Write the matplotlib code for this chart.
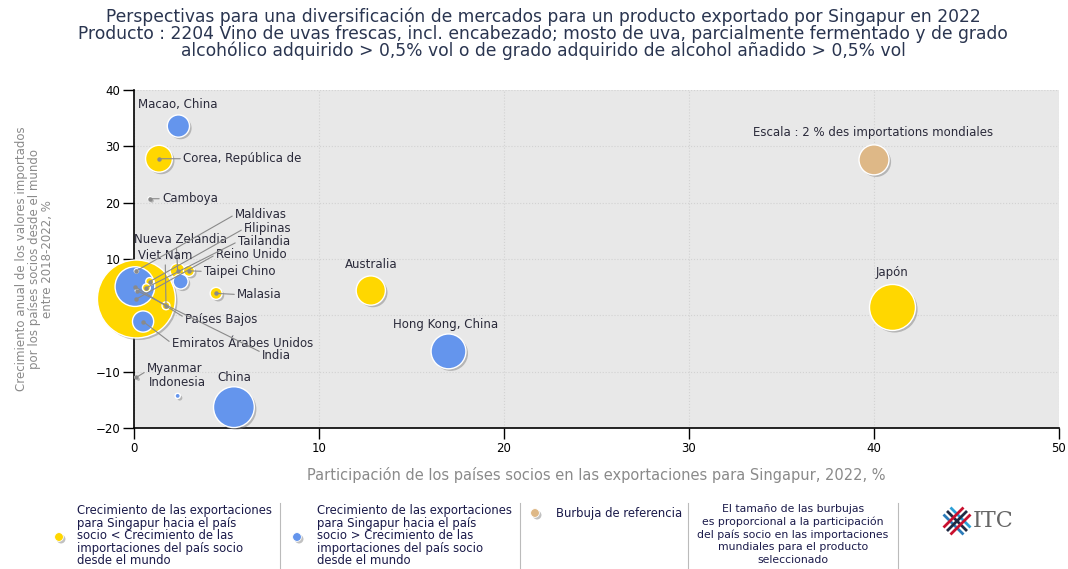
import numpy as np
import matplotlib
matplotlib.use('Agg')
import matplotlib.pyplot as plt
import matplotlib.patheffects as pe

# partner countries: x = share in Singapore exports (%), y = import growth 2018-2022 (%),
# size = share of partner in world imports (%), grp = bubble colour group
countries = ['Reino Unido', 'Japón', 'China', 'Países Bajos', 'Hong Kong, China', 'Australia',
             'Corea, República de', 'Macao, China', 'Emiratos Árabes Unidos', 'Nueva Zelandia',
             '', 'Malasia', 'Taipei Chino', 'Filipinas', 'Tailandia', 'Viet Nam',
             'Indonesia', 'Maldivas', 'Camboya', 'Myanmar', 'India']
share_exports = [0.13, 41.0, 5.4, 0.05, 17.0, 12.8,
                 1.35, 2.4, 0.49, 2.36,
                 2.52, 4.44, 2.97, 0.85, 0.67, 1.73,
                 2.36, 0.13, 0.86, 0.13, 0.15]
import_growth = [2.9, 1.4, -16.3, 5.1, -6.4, 4.4,
                 27.8, 33.6, -1.1, 7.9,
                 6.0, 3.9, 7.9, 6.0, 4.9, 1.7,
                 -14.3, 7.9, 20.7, -11.0, 4.4]
world_share = [13.5, 4.7, 3.7, 3.5, 2.7, 1.9,
               1.6, 1.1, 1.0, 0.5,
               0.5, 0.32, 0.27, 0.14, 0.14, 0.14,
               0.06, 0.04, 0.03, 0.02, 0.02]
grp = ['y', 'y', 'b', 'b', 'b', 'y',
       'y', 'b', 'b', 'y',
       'b', 'y', 'y', 'y', 'y', 'y',
       'b', 'b', 'g', 'g', 'g']

ref_x, ref_y, ref_share = 40.0, 27.6, 2.0

colors = {'y': '#FFD700', 'b': '#6495ED', 'g': '#8c8c8c', 'r': '#DEB887'}
txt_col = '#2a2a3a'
line_col = '#8a8a8a'
lab_fs = 8.5

# label placement (data coords), alignment, and where the leader line leaves the text
lab_pos = {
    'Corea, República de': ((2.65, 27.8), 'left', (0, 0.5)),
    'Camboya': ((1.51, 20.7), 'left', (0, 0.5)),
    'Maldivas': ((5.46, 17.9), 'left', (0, 0.5)),
    'Filipinas': ((5.95, 15.4), 'left', (0, 0.5)),
    'Nueva Zelandia': ((2.49, 13.5), 'center', (0.46, 0)),
    'Tailandia': ((5.62, 13.1), 'left', (0, 0.5)),
    'Reino Unido': ((4.43, 10.8), 'left', (0, 0.5)),
    'Viet Nam': ((1.69, 10.6), 'center', (0.5, 0)),
    'Taipei Chino': ((3.78, 7.8), 'left', (0, 0.5)),
    'Malasia': ((5.57, 3.7), 'left', (0, 0.5)),
    'Países Bajos': ((2.76, -0.7), 'left', (0, 0.6)),
    'Emiratos Árabes Unidos': ((2.05, -5.0), 'left', (0, 0.5)),
    'India': ((6.92, -7.1), 'left', (0, 0.7)),
    'Myanmar': ((0.70, -9.4), 'left', (0, 0.3)),
    'Macao, China': ((2.38, 37.5), 'center', None),
    'Indonesia': ((2.32, -11.9), 'center', None),
    'China': ((5.41, -11.0), 'center', None),
    'Australia': ((12.81, 9.0), 'center', None),
    'Hong Kong, China': ((16.86, -1.6), 'center', None),
    'Japón': ((40.97, 7.6), 'center', None),
}


def bubble_size(share):
    # reference bubble (2 %) is ~30 px across at 100 dpi
    d_px = 30 * np.sqrt(np.asarray(share) / 2.0)
    return (d_px * 0.72) ** 2


fig = plt.figure(figsize=(10.68, 5.69), dpi=100)
ax = fig.add_axes([134 / 1068, 1 - 428 / 569, (1059 - 134) / 1068, (428 - 90) / 569])
ax.set_facecolor('#E8E8E8')
ax.set_xlim(0, 50)
ax.set_ylim(-20, 40)
ax.set_xticks(range(0, 51, 10))
ax.set_yticks(range(-20, 41, 10))
ax.grid(True, color='#d2d2d2', linestyle=':', linewidth=0.8)
ax.set_axisbelow(True)
for s in ['top', 'right']:
    ax.spines[s].set_visible(False)
ax.spines['left'].set_linewidth(1.2)
ax.spines['bottom'].set_linewidth(1.2)
ax.tick_params(axis='both', length=8, width=1, labelsize=8.5, colors='black', pad=2)

shadow = [pe.SimplePatchShadow(offset=(1.5, -1.5), shadow_rgbFace='#777777', alpha=0.45), pe.Normal()]

order = np.argsort(world_share)[::-1]
xs = np.array(share_exports)[order]
ys = np.array(import_growth)[order]
ss = bubble_size(np.array(world_share)[order])
cs = [colors[grp[i]] for i in order]

# leader lines first so bubbles sit on top of them
for name, x, y in zip(countries, share_exports, import_growth):
    if name not in lab_pos:
        continue
    (tx, ty), ha, rel = lab_pos[name]
    if rel is None:
        ax.text(tx, ty, name, ha=ha, va='center', fontsize=lab_fs, color=txt_col, zorder=5)
    else:
        ax.annotate(name, xy=(x, y), xytext=(tx, ty), ha=ha, va='center', fontsize=lab_fs,
                    color=txt_col, zorder=5, annotation_clip=False,
                    arrowprops=dict(arrowstyle='-', color=line_col, lw=0.8, relpos=rel,
                                    shrinkA=0, shrinkB=0))

sc = ax.scatter(xs, ys, s=ss, c=cs, edgecolors='white', linewidths=1.0, zorder=3, clip_on=False)
sc.set_path_effects(shadow)
# centre dots on leader-line bubbles
for name, x, y in zip(countries, share_exports, import_growth):
    if name in lab_pos and lab_pos[name][2] is not None:
        ax.plot(x, y, 'o', ms=2.2, color=line_col, zorder=4, clip_on=False)

rc = ax.scatter([ref_x], [ref_y], s=bubble_size([ref_share]), c=colors['r'],
                edgecolors='white', linewidths=1.0, zorder=3)
rc.set_path_effects(shadow)
ax.text(39.95, 32.4, 'Escala : 2 % des importations mondiales', ha='center', va='center',
        fontsize=lab_fs, color=txt_col)

ax.set_xlabel('Participación de los países socios en las exportaciones para Singapur, 2022, %',
              fontsize=10.5, color='#8a8a8a', labelpad=9)
ax.set_ylabel('Crecimiento anual de los valores importados\npor los países socios desde el mundo\nentre 2018-2022, %',
              fontsize=8.5, color='#8a8a8a', labelpad=30, linespacing=1.0)

# overlay in pixel coordinates for title, legend and logo
lax = fig.add_axes([0, 0, 1, 1], zorder=-1)
lax.set_xlim(0, 1068)
lax.set_ylim(569, 0)
lax.axis('off')

title_lines = ['Perspectivas para una diversificación de mercados para un producto exportado por Singapur en 2022',
               'Producto : 2204 Vino de uvas frescas, incl. encabezado; mosto de uva, parcialmente fermentado y de grado',
               'alcohólico adquirido > 0,5% vol o de grado adquirido de alcohol añadido > 0,5% vol']
for ty, line in zip([17, 34, 51], title_lines):
    lax.text(543, ty, line, ha='center', va='center', fontsize=12.3, color='#2a3550')

leg_col = '#1a1a4a'
for xsep in [280, 520, 688, 898]:
    lax.plot([xsep, xsep], [503, 568], color='#bbbbbb', lw=0.8)

leg1 = 'Crecimiento de las exportaciones\npara Singapur hacia el país\nsocio < Crecimiento de las\nimportaciones del país socio\ndesde el mundo'
leg2 = 'Crecimiento de las exportaciones\npara Singapur hacia el país\nsocio > Crecimiento de las\nimportaciones del país socio\ndesde el mundo'
leg4 = 'El tamaño de las burbujas\nes proporcional a la participación\ndel país socio en las importaciones\nmundiales para el producto\nseleccionado'
lax.text(77, 504, leg1, ha='left', va='top', fontsize=8.4, color=leg_col, linespacing=0.96)
lax.text(317, 504, leg2, ha='left', va='top', fontsize=8.4, color=leg_col, linespacing=0.96)
lax.text(556, 513, 'Burbuja de referencia', ha='left', va='center', fontsize=8.4, color=leg_col)
lax.text(793, 504, leg4, ha='center', va='top', fontsize=7.8, color=leg_col, linespacing=1.3)
lm = lax.scatter([59, 297, 535], [537, 537, 513], s=40,
                 c=[colors['y'], colors['b'], colors['r']], edgecolors='white', linewidths=0.6)
lm.set_path_effects(shadow)

# ITC logo (approximation): an X made of short parallel bars
for off, c in [(-3.5, '#2b7bb9'), (0, '#1f2a44'), (3.5, '#2b9fd6')]:
    lax.plot([947 + off, 967 + off], [511 - off, 531 - off], color=c, lw=2.0, solid_capstyle='butt')
for off, c in [(-3.5, '#c8102e'), (0, '#1f2a44'), (3.5, '#c8102e')]:
    lax.plot([947 + off, 967 + off], [531 + off, 511 + off], color=c, lw=2.0, solid_capstyle='butt')
lax.text(973, 521, 'ITC', ha='left', va='center', fontsize=16, family='DejaVu Serif', color='#666666')

fig.savefig('out.png', dpi=100)
